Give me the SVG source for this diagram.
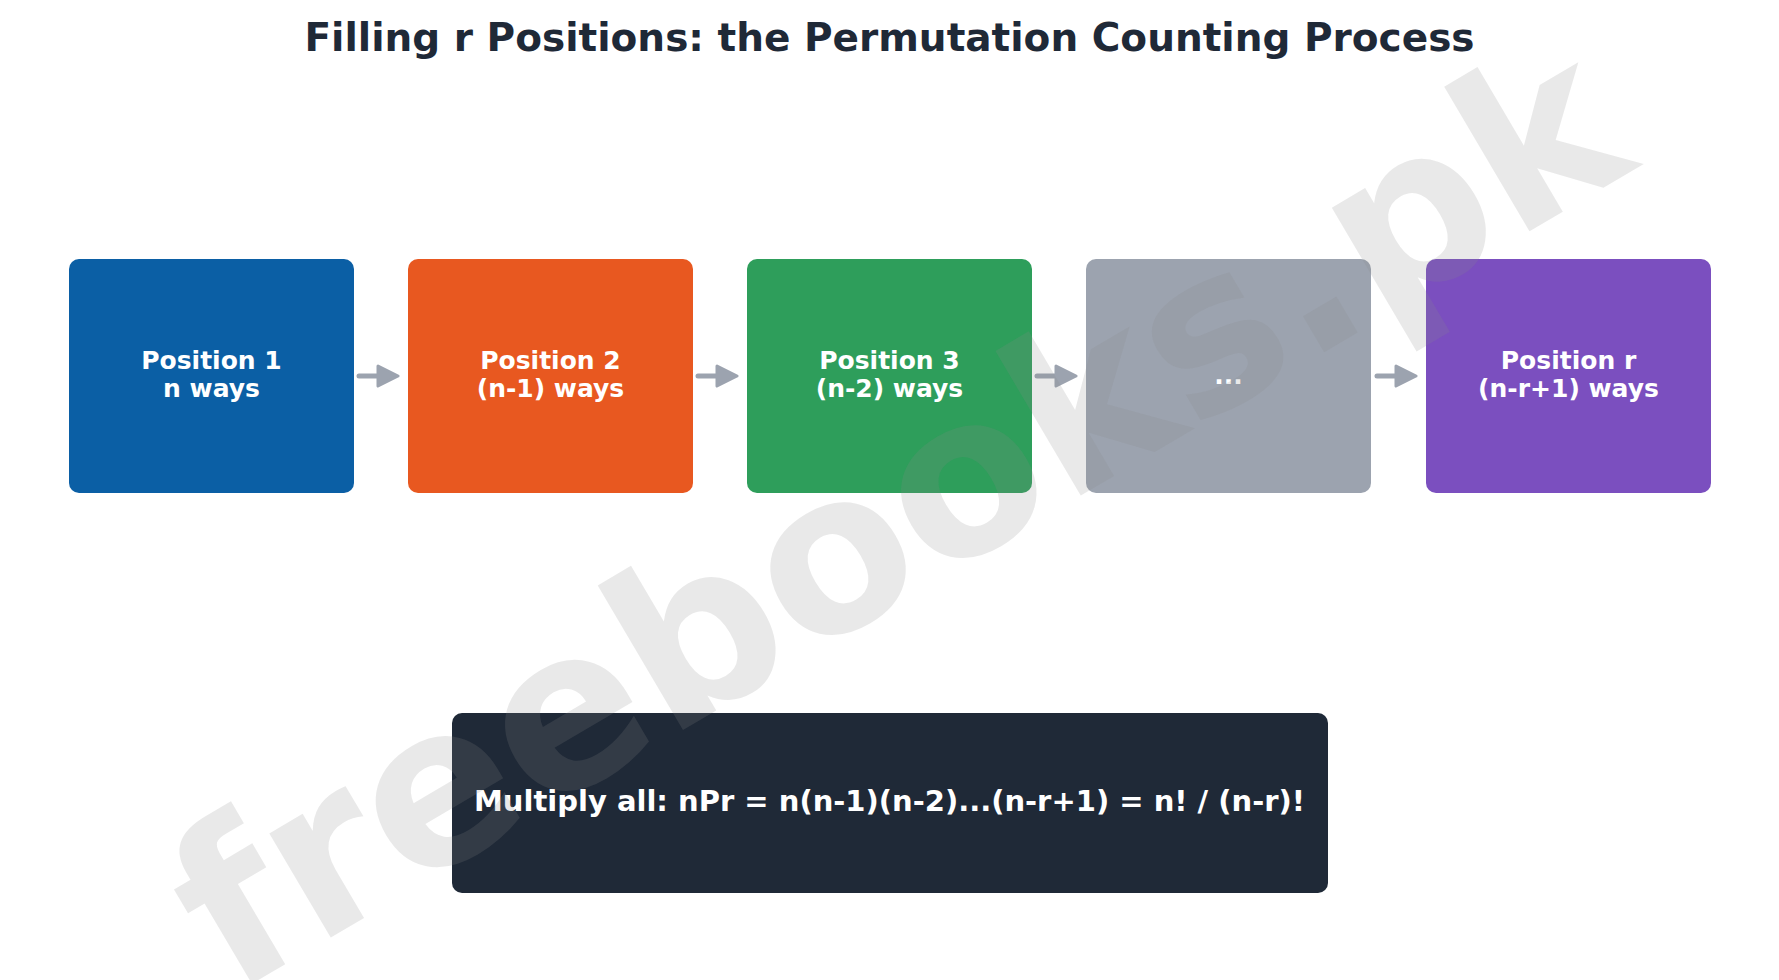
<svg xmlns="http://www.w3.org/2000/svg" width="1779" height="980" viewBox="0 0 1779 980">
<style>
.t{font-family:"DejaVu Sans","Liberation Sans",sans-serif;font-weight:bold;text-anchor:middle}
.nt{font-size:25px;fill:#ffffff}
.box{stroke:none}
.conn{stroke:#9ca3af;stroke-width:5;stroke-linecap:round;fill:none}
</style>
<defs>
<marker id="ah" markerUnits="userSpaceOnUse" markerWidth="24" markerHeight="24" refX="12" refY="10" orient="auto" viewBox="-2 -2 24 24">
<path d="M0,0 L20,10 L0,20 Z" fill="#9ca3af" stroke="#9ca3af" stroke-width="3" stroke-linejoin="round"/>
</marker>
</defs>
<rect width="1779" height="980" fill="#ffffff"/>
<text class="t" x="889.5" y="51" font-size="39" fill="#1f2937">Filling r Positions: the Permutation Counting Process</text>
<g id="connectors">
<line class="conn" x1="359" y1="376" x2="390" y2="376" marker-end="url(#ah)"/>
<line class="conn" x1="698" y1="376" x2="729" y2="376" marker-end="url(#ah)"/>
<line class="conn" x1="1037" y1="376" x2="1068" y2="376" marker-end="url(#ah)"/>
<line class="conn" x1="1377" y1="376" x2="1408" y2="376" marker-end="url(#ah)"/>
</g>
<g id="node1">
<rect class="box" x="69" y="259" width="285" height="234" rx="10" fill="#0b5fa5"/>
<text class="t nt" x="211.5" y="369">Position 1</text>
<text class="t nt" x="211.5" y="397">n ways</text>
</g>
<g id="node2">
<rect class="box" x="408" y="259" width="285" height="234" rx="10" fill="#e85820"/>
<text class="t nt" x="550.5" y="369">Position 2</text>
<text class="t nt" x="550.5" y="397">(n-1) ways</text>
</g>
<g id="node3">
<rect class="box" x="747" y="259" width="285" height="234" rx="10" fill="#2e9e5b"/>
<text class="t nt" x="889.5" y="369">Position 3</text>
<text class="t nt" x="889.5" y="397">(n-2) ways</text>
</g>
<g id="node4">
<rect class="box" x="1086" y="259" width="285" height="234" rx="10" fill="#9ca3af"/>
<text class="t nt" x="1228.5" y="384">...</text>
</g>
<g id="node5">
<rect class="box" x="1426" y="259" width="285" height="234" rx="10" fill="#7b4fbf"/>
<text class="t nt" x="1568.5" y="369">Position r</text>
<text class="t nt" x="1568.5" y="397">(n-r+1) ways</text>
</g>
<g id="summary">
<rect class="box" x="452" y="713" width="876" height="180" rx="10" fill="#1f2937"/>
<text class="t" x="889.5" y="811" font-size="29" fill="#ffffff">Multiply all: nPr = n(n-1)(n-2)...(n-r+1) = n! / (n-r)!</text>
</g>
<text class="t" x="936" y="581" font-size="221" fill="#8c8c8c" fill-opacity="0.19" transform="rotate(-30.5 936 581)">freebooks.pk</text>
</svg>
